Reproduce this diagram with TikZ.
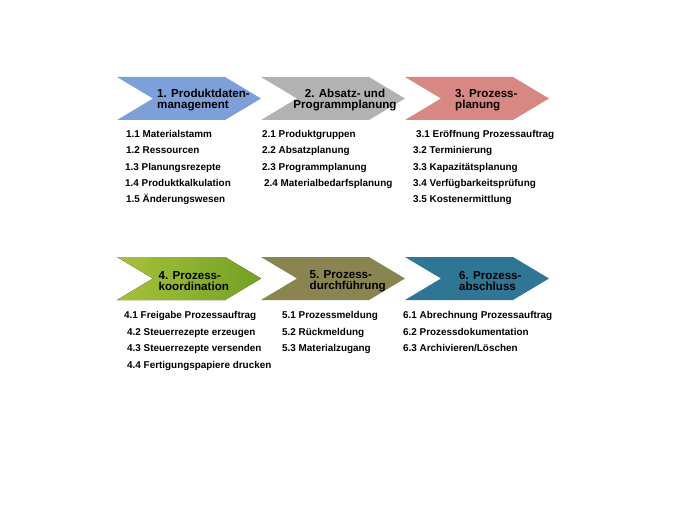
\documentclass[tikz,border=0pt]{standalone}
\usepackage{fontspec}
\setmainfont{Liberation Sans}
\usepackage{xcolor}
\usepackage{tikz}
\definecolor{pdmblue}{RGB}{125,160,218}
\definecolor{apgrey}{RGB}{178,178,178}
\definecolor{prred}{RGB}{215,136,130}
\definecolor{kogreenA}{RGB}{166,194,60}
\definecolor{kogreenB}{RGB}{116,160,36}
\definecolor{duolive}{RGB}{138,132,80}
\definecolor{abteal}{RGB}{47,117,148}

\begin{document}
\begin{tikzpicture}[x=1pt,y=-1pt,
	phase/.style={font=\fontsize{11.6}{11}\selectfont\bfseries,inner sep=0pt,anchor=west,align=left},
	task/.style={font=\fontsize{9.9}{12}\selectfont\bfseries,inner sep=0pt,anchor=base west}]
		\useasboundingbox[fill=white] (0,0) rectangle (677,508);
		
		\fill[pdmblue] (117,77) -- ++(108,0) -- ++(36,21.5) -- ++(-36,21.5) -- ++(-108,0) -- ++(36,-21.5) -- cycle;
		\fill[apgrey] (261,77) -- ++(108,0) -- ++(36,21.5) -- ++(-36,21.5) -- ++(-108,0) -- ++(36,-21.5) -- cycle;
		\fill[prred] (405,77) -- ++(108,0) -- ++(36,21.5) -- ++(-36,21.5) -- ++(-108,0) -- ++(36,-21.5) -- cycle;
		
		\fill[left color=kogreenA,right color=kogreenB] (117,257) -- ++(108,0) -- ++(36,21.5) -- ++(-36,21.5) -- ++(-108,0) -- ++(36,-21.5) -- cycle;
		\fill[duolive] (261,257) -- ++(108,0) -- ++(36,21.5) -- ++(-36,21.5) -- ++(-108,0) -- ++(36,-21.5) -- cycle;
		\fill[abteal] (405,257) -- ++(108,0) -- ++(36,21.5) -- ++(-36,21.5) -- ++(-108,0) -- ++(36,-21.5) -- cycle;
		
		\node[phase] (P1) at (157,100) {1. Produktdaten-\\management};
		\node[phase,align=center,anchor=center] (P2) at (345,100) {2. Absatz- und\\Programmplanung};
		\node[phase] (P3) at (455,100) {3. Prozess-\\planung};
		\node[phase] (P4) at (158.5,281) {4. Prozess-\\koordination};
		\node[phase] (P5) at (309.5,281) {5. Prozess-\\durchführung};
		\node[phase] (P6) at (459,281) {6. Prozess-\\abschluss};
		
		%
		\node[task] (T11) at (126,137.5) {1.1 Materialstamm};
		\node[task] (T12) at (126,153.8) {1.2 Ressourcen};
		\node[task] (T13) at (125,170.1) {1.3 Planungsrezepte};
		\node[task] (T14) at (125,186.4) {1.4 Produktkalkulation};
		\node[task] (T15) at (126,202.7) {1.5 Änderungswesen};
		
		\node[task] (T21) at (262,137.5) {2.1 Produktgruppen};
		\node[task] (T22) at (262,153.8) {2.2 Absatzplanung};
		\node[task] (T23) at (262,170.1) {2.3 Programmplanung};
		\node[task] (T24) at (264,186.4) {2.4 Materialbedarfsplanung};
		
		\node[task] (T31) at (416,137.5) {3.1 Eröffnung Prozessauftrag};
		\node[task] (T32) at (413,153.8) {3.2 Terminierung};
		\node[task] (T33) at (413,170.1) {3.3 Kapazitätsplanung};
		\node[task] (T34) at (413,186.4) {3.4 Verfügbarkeitsprüfung};
		\node[task] (T35) at (413,202.7) {3.5 Kostenermittlung};
		
		%
		\node[task] (T41) at (124,318.5) {4.1 Freigabe Prozessauftrag};
		\node[task] (T42) at (127,335) {4.2 Steuerrezepte erzeugen};
		\node[task] (T43) at (127,351.5) {4.3 Steuerrezepte versenden};
		\node[task] (T44) at (127,368) {4.4 Fertigungspapiere drucken};
		
		\node[task] (T51) at (282,318.5) {5.1 Prozessmeldung};
		\node[task] (T52) at (282,335) {5.2 Rückmeldung};
		\node[task] (T53) at (282,351.5) {5.3 Materialzugang};
		
		\node[task] (T61) at (403,318.5) {6.1 Abrechnung Prozessauftrag};
		\node[task] (T62) at (403,335) {6.2 Prozessdokumentation};
		\node[task] (T63) at (403,351.5) {6.3 Archivieren/Löschen};
		
	\end{tikzpicture}
\end{document}
